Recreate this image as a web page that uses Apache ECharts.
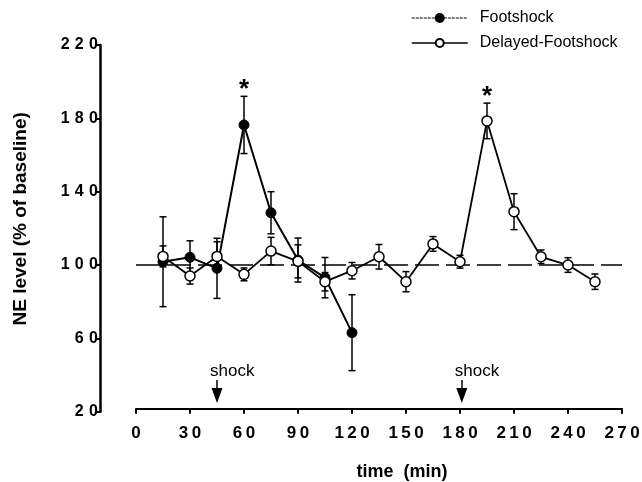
<!DOCTYPE html>
<html>
<head>
<meta charset="utf-8">
<script src="https://cdn.jsdelivr.net/npm/echarts@6/dist/echarts.min.js"></script>
<style>
html,body{margin:0;padding:0;background:#fff;}
#chart{width:642px;height:482px;}
</style>
</head>
<body>
<div id="chart"></div>
<script>
// ---- data ----
const footTimes = [15, 30, 45, 60, 75, 90, 105, 120];
const footMean  = [101.8, 104.2, 98.2, 176.4, 128.5, 102.7, 93.1, 63.1];
const footErr   = [24.5, 9, 16.4, 15.6, 11.5, 12, 11, 20.7];

const delayedTimes = [15, 30, 45, 60, 75, 90, 105, 120, 135, 150, 165, 180, 195, 210, 225, 240, 255];
const delayedMean  = [104.7, 94, 104.7, 94.9, 107.6, 102, 90.9, 96.9, 104.5, 90.9, 111.5, 101.8, 178.6, 129.1, 104.5, 100, 90.9];
const delayedErr   = [5.7, 4.4, 8, 3.5, 7.5, 9, 5, 4.5, 6.7, 5.5, 4, 3.5, 9.7, 9.8, 3.7, 4, 4.2];

const baselineValue = 100;
const shockTimes = [45, 181];
const shockArrowTop = 37.3;
const shockArrowEnd = 28.8;
const shockLabelValue = 42.2;
const starTimes = [60, 195];
const starValues = [198.2, 194.4];

const xMin = 0, xMax = 270, xStep = 30;
const yMin = 20, yMax = 220, yStep = 40;

const FONT = 'Liberation Sans, Arial, Helvetica, sans-serif';

function zip(xs, ys) { return xs.map((x, i) => [x, ys[i]]); }
function zip3(xs, ys, es) { return xs.map((x, i) => [x, ys[i], es[i]]); }

function errRender(params, api) {
  const x = api.value(0), y = api.value(1), e = api.value(2);
  const top = api.coord([x, y + e]);
  const bot = api.coord([x, y - e]);
  const w = 3.5;
  const st = { stroke: '#000', lineWidth: 1.5 };
  return {
    type: 'group',
    children: [
      { type: 'line', shape: { x1: top[0], y1: top[1], x2: bot[0], y2: bot[1] }, style: st },
      { type: 'line', shape: { x1: top[0] - w, y1: top[1], x2: top[0] + w, y2: top[1] }, style: st },
      { type: 'line', shape: { x1: bot[0] - w, y1: bot[1], x2: bot[0] + w, y2: bot[1] }, style: st }
    ]
  };
}

const chart = echarts.init(document.getElementById('chart'), null, { renderer: 'canvas' });

const option = {
  backgroundColor: '#fff',
  animation: false,
  textStyle: { fontFamily: FONT },
  legend: {
    data: [
      { name: 'Footshock', lineStyle: { width: 1.2, type: [3, 1] } },
      { name: 'Delayed-Footshock', lineStyle: { width: 1.5 } }
    ],
    orient: 'vertical',
    left: 406,
    top: 5,
    itemWidth: 56,
    itemHeight: 10,
    itemGap: 9,
    textStyle: { fontSize: 16, color: '#000', fontFamily: FONT, padding: [0, 0, 0, 7] }
  },
  grid: { left: 136, right: 20, top: 45, bottom: 70.3, containLabel: false, outerBoundsMode: 'none' },
  xAxis: {
    type: 'value',
    min: xMin, max: xMax, interval: xStep,
    offset: -3,
    axisLine: { show: true, onZero: false, lineStyle: { color: '#000', width: 2 } },
    axisTick: { show: true, length: 5, lineStyle: { color: '#000', width: 2 } },
    axisLabel: {
      color: '#000', fontSize: 17, fontWeight: 'bold', fontFamily: FONT, margin: 16,
      formatter: v => String(v).split('').join('\u2009')
    },
    splitLine: { show: false },
    name: 'time  (min)',
    nameLocation: 'middle',
    nameGap: 54,
    nameTextStyle: { color: '#000', fontSize: 18, fontWeight: 'bold', fontFamily: FONT, padding: [0, 0, 0, 46] }
  },
  yAxis: {
    type: 'value',
    min: yMin, max: yMax, interval: yStep,
    offset: 36,
    axisLine: { show: true, onZero: false, lineStyle: { color: '#000', width: 2.5 } },
    axisTick: { show: true, length: 5, lineStyle: { color: '#000', width: 2 } },
    axisLabel: {
      color: '#000', fontSize: 16, fontWeight: 'bold', fontFamily: FONT, margin: 2,
      formatter: v => String(v).split('').join('\u2004')
    },
    splitLine: { show: false },
    name: 'NE level (% of baseline)',
    nameLocation: 'middle',
    nameRotate: 90,
    nameGap: 70,
    nameTextStyle: { color: '#000', fontSize: 19, fontWeight: 'bold', fontFamily: FONT, padding: [0, 0, 0, 19] }
  },
  series: [
    {
      name: 'Footshock err',
      type: 'custom',
      renderItem: errRender,
      data: zip3(footTimes, footMean, footErr),
      encode: { x: 0, y: 1 },
      z: 1,
      silent: true
    },
    {
      name: 'Delayed err',
      type: 'custom',
      renderItem: errRender,
      data: zip3(delayedTimes, delayedMean, delayedErr),
      encode: { x: 0, y: 1 },
      z: 1,
      silent: true
    },
    {
      name: 'Footshock',
      type: 'line',
      data: zip(footTimes, footMean),
      symbol: 'circle',
      symbolSize: 10,
      showAllSymbol: true,
      lineStyle: { color: '#000', width: 2 },
      itemStyle: { color: '#000', borderColor: '#000', borderWidth: 1 },
      z: 3,
      markLine: {
        silent: true,
        animation: false,
        symbol: ['none', 'triangle'],
        symbolSize: [0, 12],
        lineStyle: { color: '#000', width: 1.5, type: 'solid' },
        label: { show: false },
        data: shockTimes.map(t => [
          { coord: [t, shockArrowTop] },
          { coord: [t, shockArrowEnd], symbol: 'triangle', symbolSize: [11, 15] }
        ])
      },
      markPoint: {
        silent: true,
        symbol: 'circle',
        symbolSize: 0,
        data: shockTimes.map(t => ({
          coord: [t, shockLabelValue],
          label: {
            show: true, formatter: 'shock', position: 'inside', align: 'left', verticalAlign: 'middle',
            offset: [-7, 0], color: '#000', fontSize: 17, fontFamily: FONT
          }
        })).concat(starTimes.map((t, i) => ({
          coord: [t, starValues[i]],
          label: {
            show: true, formatter: '*', position: 'inside', align: 'center', verticalAlign: 'middle',
            color: '#000', fontSize: 26, fontWeight: 'bold', fontFamily: FONT, offset: [0, 5]
          }
        })))
      }
    },
    {
      name: 'Delayed-Footshock',
      type: 'line',
      data: zip(delayedTimes, delayedMean),
      symbol: 'circle',
      symbolSize: 10,
      showAllSymbol: true,
      lineStyle: { color: '#000', width: 1.8 },
      itemStyle: { color: '#fff', borderColor: '#000', borderWidth: 1.5 },
      z: 4,
      markLine: {
        silent: true,
        symbol: 'none',
        label: { show: false },
        lineStyle: { color: '#000', width: 1.5, type: [24, 7] },
        data: [{ yAxis: baselineValue }],
        z: 1
      }
    }
  ]
};

chart.setOption(option);
</script>
</body>
</html>
